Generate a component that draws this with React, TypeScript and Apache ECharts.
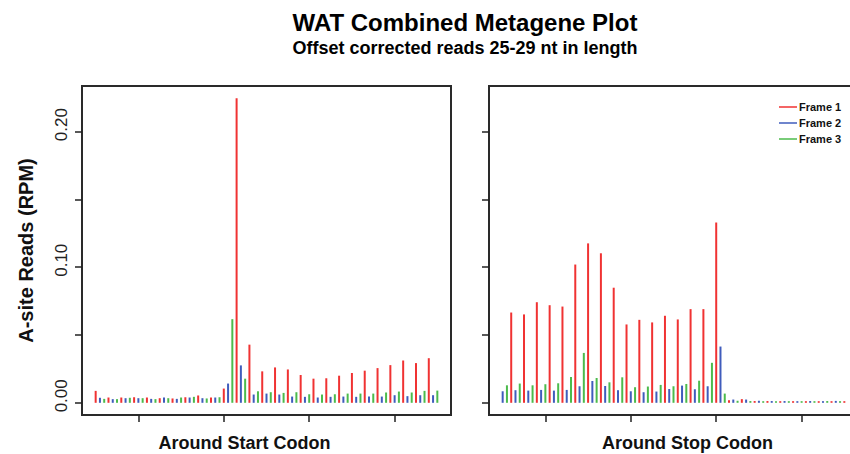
import React, { useEffect, useRef } from "react";
import * as echarts from "echarts";

const titleText = "WAT Combined Metagene Plot";
const subtitleText = "Offset corrected reads 25-29 nt in length";
const yAxisTitle = "A-site Reads (RPM)";
const leftAxisTitle = "Around Start Codon";
const rightAxisTitle = "Around Stop Codon";
const frameNames = ["Frame 1", "Frame 2", "Frame 3"];
const frameColors = ["#f03232", "#3f5cbc", "#4cbb4c"];

// nucleotide positions relative to the codon (81 positions)
const positions: number[] = [];
for (let p = -30; p <= 50; p++) positions.push(p);

const yTickValues = [0, 0.05, 0.1, 0.15, 0.2];
const yLabelValues = [0, 0.1, 0.2];
const xTickValues = [-20, 0, 20, 40];

// Around start codon; frame of first position = Frame 1
const startValues = [
  0.0088, 0.0037, 0.0029, 0.0039, 0.0027, 0.0027, 0.0039, 0.0034, 0.0037, 0.0041,
  0.0034, 0.0034, 0.0039, 0.0029, 0.0027, 0.0034, 0.0039, 0.0034, 0.0032, 0.0029,
  0.0039, 0.0041, 0.0039, 0.0044, 0.0054, 0.0034, 0.0032, 0.0039, 0.0039, 0.0041,
  0.0105, 0.0142, 0.0617, 0.2247, 0.0276, 0.0178, 0.0429, 0.0061, 0.0085, 0.0232,
  0.0068, 0.0078, 0.0261, 0.0061, 0.0073, 0.0246, 0.0046, 0.0078, 0.0205, 0.0044,
  0.0063, 0.0178, 0.0039, 0.0061, 0.0181, 0.0044, 0.0063, 0.0200, 0.0046, 0.0068,
  0.0220, 0.0044, 0.0068, 0.0237, 0.0046, 0.0068, 0.0256, 0.0046, 0.0076, 0.0278,
  0.0056, 0.0083, 0.0312, 0.0049, 0.0076, 0.0293, 0.0056, 0.0088, 0.0329, 0.0056,
  0.0090,
];
const startFirstFrame = 0;

// Around stop codon; frame of first position = Frame 2
const stopValues = [
  0.0085, 0.0129, 0.0666, 0.0093, 0.0142, 0.0652, 0.0090, 0.0129, 0.0742, 0.0095,
  0.0137, 0.0720, 0.0090, 0.0144, 0.0710, 0.0095, 0.0190, 0.1020, 0.0122, 0.0368,
  0.1176, 0.0161, 0.0183, 0.1103, 0.0124, 0.0151, 0.0849, 0.0093, 0.0188, 0.0578,
  0.0085, 0.0115, 0.0612, 0.0078, 0.0120, 0.0593, 0.0083, 0.0132, 0.0642, 0.0102,
  0.0122, 0.0615, 0.0127, 0.0139, 0.0691, 0.0100, 0.0163, 0.0691, 0.0122, 0.0295,
  0.1330, 0.0415, 0.0068, 0.0019, 0.0024, 0.0015, 0.0027, 0.0024, 0.0013, 0.0013,
  0.0015, 0.0012, 0.0013, 0.0013, 0.0012, 0.0012, 0.0013, 0.0012, 0.0012, 0.0012,
  0.0012, 0.0012, 0.0013, 0.0012, 0.0012, 0.0012, 0.0013, 0.0012, 0.0014, 0.0012,
  0.0012,
];
const stopFirstFrame = 1;

const FONT = "'Liberation Sans', Arial, Helvetica, sans-serif";

function frameSeries(values: number[], firstFrame: number, gridIndex: number) {
  return frameNames.map((name, f) => ({
    type: "bar" as const,
    name,
    xAxisIndex: gridIndex,
    yAxisIndex: gridIndex,
    barWidth: 2,
    barGap: "-100%",
    itemStyle: { color: frameColors[f] },
    data: values
      .map((v, i) => ({ v, i }))
      .filter(({ i }) => (i + firstFrame) % 3 === f)
      .map(({ v, i }) => [positions[i], v]),
  }));
}

export default function App() {
  const ref = useRef<HTMLDivElement>(null);
  useEffect(() => {
    if (!ref.current) return;
    const chart = echarts.init(ref.current, undefined, { renderer: "svg" });
    const nameStyle = { fontFamily: FONT, fontSize: 18, fontWeight: "bold", color: "#111" };
    const xAxisCommon = {
      type: "value" as const,
      min: -33.2,
      max: 53.2,
      axisLine: { show: false, onZero: false },
      splitLine: { show: false },
      axisTick: {
        show: true,
        inside: false,
        length: 7,
        customValues: xTickValues,
        lineStyle: { color: "#222", width: 1.5 },
      },
      axisLabel: { show: false, customValues: xTickValues },
      nameLocation: "middle" as const,
      nameGap: 19,
    };
    const yAxisCommon = {
      type: "value" as const,
      min: -0.009,
      max: 0.2337,
      axisLine: { show: false, onZero: false },
      splitLine: { show: false },
      axisTick: {
        show: true,
        inside: false,
        length: 7,
        customValues: yTickValues,
        lineStyle: { color: "#222", width: 1.5 },
      },
    };
    const gridCommon = {
      top: 86,
      width: 369,
      height: 329,
      show: true,
      borderColor: "#2a2a2a",
      borderWidth: 2,
      backgroundColor: "transparent",
      containLabel: false,
      outerBoundsMode: "none",
    };
    chart.setOption({
      animation: false,
      title: {
        text: titleText,
        subtext: subtitleText,
        left: 460,
        top: 5,
        textAlign: "center",
        itemGap: 5,
        textStyle: { fontFamily: FONT, fontSize: 24, fontWeight: "bold", color: "#000" },
        subtextStyle: { fontFamily: FONT, fontSize: 18, fontWeight: "bold", color: "#000" },
      },
      legend: {
        data: frameNames,
        orient: "vertical",
        left: 779,
        top: 101,
        padding: 0,
        icon: "rect",
        itemWidth: 18,
        itemHeight: 1.5,
        itemGap: 4,
        textStyle: { fontFamily: FONT, fontSize: 11, fontWeight: "bold", color: "#111", lineHeight: 12, padding: [0, 0, 0, -3] },
      },
      grid: [
        { ...gridCommon, left: 82 },
        { ...gridCommon, left: 489 },
      ],
      xAxis: [
        { ...xAxisCommon, gridIndex: 0, name: leftAxisTitle, nameTextStyle: { ...nameStyle, padding: [0, 44, 0, 0] } },
        { ...xAxisCommon, gridIndex: 1, name: rightAxisTitle, nameTextStyle: { ...nameStyle, padding: [0, 0, 0, 28] } },
      ],
      yAxis: [
        {
          ...yAxisCommon,
          gridIndex: 0,
          name: yAxisTitle,
          nameLocation: "middle",
          nameRotate: 90,
          nameGap: 46,
          nameTextStyle: { fontFamily: FONT, fontSize: 20, fontWeight: "bold", color: "#111" },
          axisLabel: {
            show: true,
            customValues: yLabelValues,
            rotate: 90,
            margin: 12,
            fontFamily: FONT,
            fontSize: 17,
            color: "#222",
            padding: [0, 0, 0, 14],
            formatter: (v: number) => v.toFixed(2),
          },
        },
        { ...yAxisCommon, gridIndex: 1, axisLabel: { show: false } },
      ],
      series: [
        ...frameSeries(startValues, startFirstFrame, 0),
        ...frameSeries(stopValues, stopFirstFrame, 1),
      ],
    });
    return () => chart.dispose();
  }, []);
  return (
    <div
      ref={ref}
      style={{ position: "absolute", left: 0, top: 0, width: 850, height: 454, background: "#fff" }}
    />
  );
}
